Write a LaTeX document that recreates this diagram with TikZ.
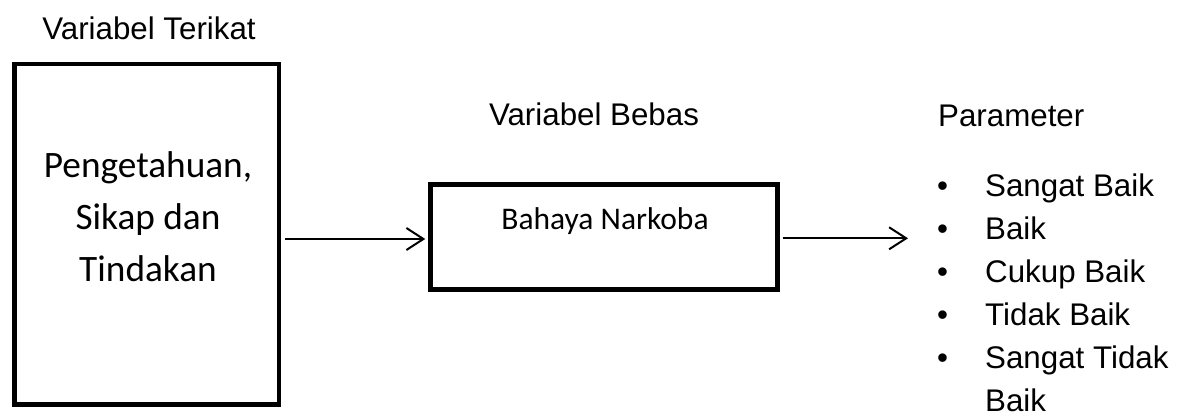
\documentclass[tikz,border=0pt]{standalone}
\usepackage{fontspec}
\setmainfont{Liberation Sans}
\newfontfamily\calibri{Carlito}
\usetikzlibrary{arrows.meta}
\begin{document}
\begin{tikzpicture}[x=1pt,y=-1pt,
  frame/.style={draw, line width=4.5pt, inner sep=0pt, rectangle},
  heading/.style={inner sep=0pt, anchor=base, font=\fontsize{31.3}{36}\selectfont},
  boxtext/.style={inner sep=0pt, align=center, font=\calibri\fontsize{37.3}{52}\selectfont},
  item/.style={inner sep=0pt, anchor=base west, font=\fontsize{31.3}{36}\selectfont},
  arr/.style={line width=2pt, -{Straight Barb[length=17pt,width=22pt]}}]
  \useasboundingbox (0,0) rectangle (1189,419);

  % headings
  \node[heading] (hterikat) at (149,40) {Variabel Terikat};
  \node[heading] (hbebas) at (594,126) {Variabel Bebas};
  \node[heading, anchor=base west] (hparam) at (938,127) {Parameter};

  % dependent variable box (the base anchor of the text is its last line)
  \node[frame, minimum width=264.5pt, minimum height=340.5pt] (terikat) at (146.75,234.25) {};
  \node[boxtext, anchor=base] (tterikat) at (148,282) {Pengetahuan,\\Sikap dan\\Tindakan};

  % independent variable box
  \node[frame, minimum width=347pt, minimum height=105pt] (bebas) at (604,237) {};
  \node[heading, font=\calibri\fontsize{31.5}{36}\selectfont] (tbebas) at (605,230) {Bahaya Narkoba};

  % parameter list
  \foreach \y/\txt [count=\i] in {197/Sangat Baik, 240/Baik, 283/Cukup Baik, 326/Tidak Baik, 369/Sangat Tidak}{
    \node[item] (b\i) at (937,\y) {\textbullet};
    \node[item] (p\i) at (985,\y) {\txt};
  }
  \node[item] (p6) at (985,412) {Baik};

  % connectors
  \coordinate (tip) at (908,238.3);
  \draw[arr] ([xshift=4pt,yshift=-2pt]terikat.east |- bebas.west) -- ([xshift=-3pt,yshift=-2pt]bebas.west);
  \draw[arr] ([xshift=3.5pt,yshift=-1.3pt]bebas.east) -- (tip);
\end{tikzpicture}
\end{document}
